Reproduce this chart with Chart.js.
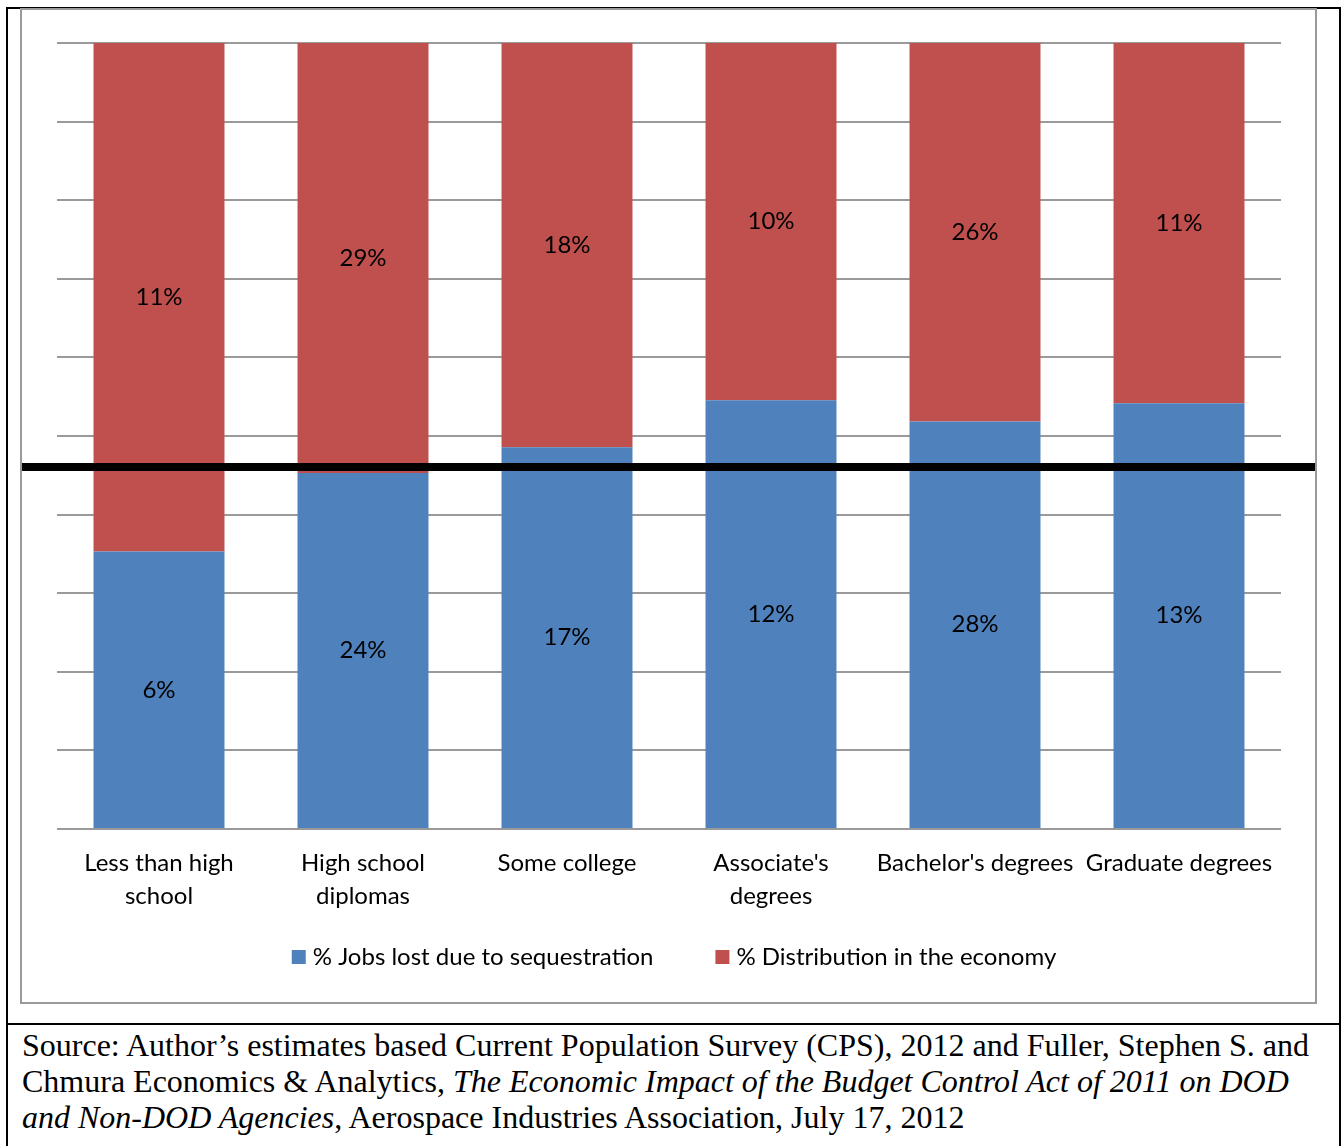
<!DOCTYPE html>
<html>
<head>
<meta charset="utf-8">
<title>Jobs lost due to sequestration by education level</title>
<script src="https://cdn.jsdelivr.net/npm/chart.js@4.4.1/dist/chart.umd.min.js"></script>
<style>
  html, body { margin: 0; padding: 0; background: #fff; }
  body { width: 1342px; height: 1146px; position: relative; overflow: hidden; }
  #frame { position: absolute; left: 6px; top: 7px; width: 1331px; height: 1200px;
           border: 2px solid #000; border-bottom: none; }
  #rule { position: absolute; left: 6px; top: 1023px; width: 1335px; height: 2px; background: #000; }
  #box { position: absolute; left: 20px; top: 8px; width: 1297px; height: 996px;
         border: 2px solid #9a9a9a; box-sizing: border-box; background: #fff; }
  #box canvas { display: block; }
  #source { position: absolute; left: 22px; top: 1027px; font-family: "Liberation Serif", "Times New Roman", serif;
            font-size: 32px; line-height: 36px; color: #000; white-space: nowrap; }
</style>
</head>
<body>
<div id="frame"></div>
<div id="box"><canvas id="chart" width="1293" height="992"></canvas></div>
<div id="rule"></div>
<div id="source">
  <div>Source: Author’s estimates based Current Population Survey (CPS), 2012 and Fuller, Stephen S. and</div>
  <div>Chmura Economics &amp; Analytics, <i>The Economic Impact of the Budget Control Act of 2011 on DOD</i></div>
  <div><i>and Non-DOD Agencies</i>, Aerospace Industries Association, July 17, 2012</div>
</div>
<script>
// Education categories (multi-line labels as shown under each column)
const categories = [
  ["Less than high", "school"],
  ["High school", "diplomas"],
  "Some college",
  ["Associate's", "degrees"],
  "Bachelor's degrees",
  "Graduate degrees"
];

// Series values in percent
const jobsLost = [6, 24, 17, 12, 28, 13];
const distribution = [11, 29, 18, 10, 26, 11];
const seriesNames = ["% Jobs lost due to sequestration", "% Distribution in the economy"];

// Value axis (100% stacked) and the reference level drawn across the plot
const yMax = 100;
const yStep = 10;
const markerLevel = 46;

const blue = "#4F81BD";
const red = "#C0504D";
const labelFont = "Lato, 'Open Sans', sans-serif";
const textSize = 24;

// Each column is scaled to 100% of the two values
const totals = jobsLost.map((v, i) => v + distribution[i]);
const jobsShare = jobsLost.map((v, i) => v / totals[i] * 100);
const distShare = distribution.map((v, i) => v / totals[i] * 100);

// Value labels centred in each segment
const segmentLabels = {
  id: "segmentLabels",
  afterDatasetsDraw(chart) {
    const ctx = chart.ctx;
    ctx.save();
    ctx.font = textSize + "px " + labelFont;
    ctx.fillStyle = "#000";
    ctx.textAlign = "center";
    ctx.textBaseline = "middle";
    chart.data.datasets.forEach((ds, di) => {
      const meta = chart.getDatasetMeta(di);
      meta.data.forEach((bar, i) => {
        const y = (bar.y + bar.base) / 2;
        ctx.fillText(ds.rawValues[i] + "%", bar.x, y);
      });
    });
    ctx.restore();
  }
};

// Heavy horizontal rule across the whole panel at the marker level
const markerRule = {
  id: "markerRule",
  afterDatasetsDraw(chart) {
    const ctx = chart.ctx;
    const y = chart.scales.y.getPixelForValue(markerLevel);
    ctx.save();
    ctx.fillStyle = "#000";
    ctx.fillRect(0, Math.round(y) - 4, chart.width, 8);
    ctx.restore();
  }
};

// Legend: square swatch followed by the series name, centred under the plot
const bottomLegend = {
  id: "bottomLegend",
  afterDraw(chart) {
    const ctx = chart.ctx;
    const box = 14, textGap = 7, itemGap = 62;
    ctx.save();
    ctx.font = textSize + "px " + labelFont;
    ctx.textBaseline = "middle";
    ctx.textAlign = "left";
    const items = chart.data.datasets.map(ds => ({
      label: ds.label, color: ds.backgroundColor, w: ctx.measureText(ds.label).width
    }));
    const total = items.reduce((s, it) => s + box + textGap + it.w, 0) + itemGap * (items.length - 1);
    const ca = chart.chartArea;
    let x = (ca.left + ca.right) / 2 - total / 2 + 5;
    const yc = 947;
    items.forEach(it => {
      ctx.fillStyle = it.color;
      ctx.fillRect(x, yc - box / 2, box, box);
      ctx.fillStyle = "#000";
      ctx.fillText(it.label, x + box + textGap, yc);
      x += box + textGap + it.w + itemGap;
    });
    ctx.restore();
  }
};

new Chart(document.getElementById("chart"), {
  type: "bar",
  data: {
    labels: categories,
    datasets: [
      { label: seriesNames[0], data: jobsShare, rawValues: jobsLost, backgroundColor: blue,
        categoryPercentage: 1, barPercentage: 0.642 },
      { label: seriesNames[1], data: distShare, rawValues: distribution, backgroundColor: red,
        categoryPercentage: 1, barPercentage: 0.642 }
    ]
  },
  options: {
    responsive: false,
    animation: false,
    layout: { padding: { left: 35, right: 34, top: 33, bottom: 79 } },
    plugins: { legend: { display: false }, tooltip: { enabled: false } },
    scales: {
      x: {
        stacked: true,
        grid: { display: false },
        border: { display: false },
        ticks: { color: "#000", padding: 10, maxRotation: 0, autoSkip: false,
                 font: { family: labelFont, size: textSize, lineHeight: 1.375 } }
      },
      y: {
        stacked: true,
        min: 0, max: yMax,
        ticks: { display: false, stepSize: yStep },
        grid: { color: "#9a9a9a", lineWidth: 2, drawTicks: false },
        border: { display: false }
      }
    }
  },
  plugins: [segmentLabels, markerRule, bottomLegend]
});
</script>
</body>
</html>
